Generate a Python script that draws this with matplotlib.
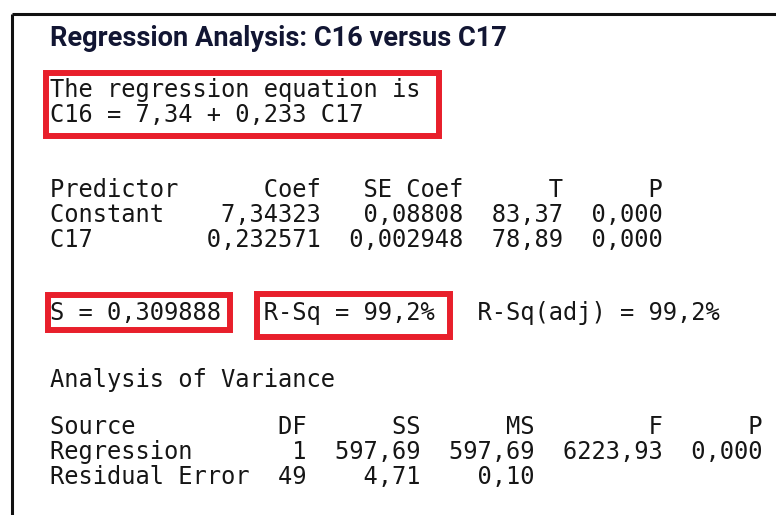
import matplotlib
matplotlib.use("Agg")
import matplotlib.pyplot as plt
from matplotlib.patches import Rectangle

# Minitab output values
title = "Regression Analysis: C16 versus C17"
equation = ["The regression equation is", "C16 = 7,34 + 0,233 C17"]

predictors = ["Constant", "C17"]
coefs = ["7,34323", "0,232571"]
se_coefs = ["0,08808", "0,002948"]
t_vals = ["83,37", "78,89"]
p_vals = ["0,000", "0,000"]

s_val = "0,309888"
r_sq = "99,2%"
r_sq_adj = "99,2%"

sources = ["Regression", "Residual Error"]
dfs = ["1", "49"]
ss = ["597,69", "4,71"]
ms = ["597,69", "0,10"]
f_vals = ["6223,93", ""]
p_anova = ["0,000", ""]

W, H = 776, 515
X0 = 50          # left edge of text column 0
CW = 14.3        # monospace char width in px
LH = 25          # line height in px
MONO = "DejaVu Sans Mono"
mono_size = CW / 0.602 * 72 / 100
RED = "#e81f2b"
INK = "#161616"

fig = plt.figure(figsize=(W / 100, H / 100), dpi=100)
ax = fig.add_axes([0, 0, 1, 1])
ax.set_xlim(0, W)
ax.set_ylim(H, 0)
ax.axis("off")

# window frame (left + top)
ax.plot([11.5, 11.5], [H, 14], color="#111111", lw=2.2, solid_capstyle="butt")
ax.plot([11.5, W], [14, 14], color="#111111", lw=2.2, solid_capstyle="butt")


def line(y, s):
    ax.text(X0, y, s, family=MONO, fontsize=mono_size, color=INK, va="baseline", ha="left")


def box(c0, c1, y0, y1):
    ax.add_patch(Rectangle((X0 + c0 * CW, y0), (c1 - c0) * CW, y1 - y0,
                           fill=False, edgecolor=RED, lw=4.3))


# title, fitted to the original width
t = ax.text(X0, 46, title, family="Roboto", fontweight="bold", fontsize=18,
            color="#121633", va="baseline", ha="left")
fig.canvas.draw()
w = t.get_window_extent().width
t.set_fontsize(18 * 458 / w)

# equation
line(97, equation[0])
line(97 + LH, equation[1])
box(-0.28, 27.2, 73, 136)

# coefficient table
line(197, f"{'Predictor':<9}{'Coef':>10}{'SE Coef':>10}{'T':>7}{'P':>7}")
for i, name in enumerate(predictors):
    line(197 + LH * (i + 1),
         f"{name:<9}{coefs[i]:>10}{se_coefs[i]:>10}{t_vals[i]:>7}{p_vals[i]:>7}")

# summary
line(320, f"S = {s_val}   R-Sq = {r_sq}   R-Sq(adj) = {r_sq_adj}")
box(-0.17, 12.6, 295, 330)
box(14.5, 28.0, 293.5, 336.5)

# analysis of variance
line(387, "Analysis of Variance")
line(434, f"{'Source':<14}{'DF':>4}{'SS':>8}{'MS':>8}{'F':>9}{'P':>7}")
for i, src in enumerate(sources):
    line(434 + LH * (i + 1),
         f"{src:<14}{dfs[i]:>4}{ss[i]:>8}{ms[i]:>8}{f_vals[i]:>9}{p_anova[i]:>7}".rstrip())

fig.savefig("out.png", dpi=100)
